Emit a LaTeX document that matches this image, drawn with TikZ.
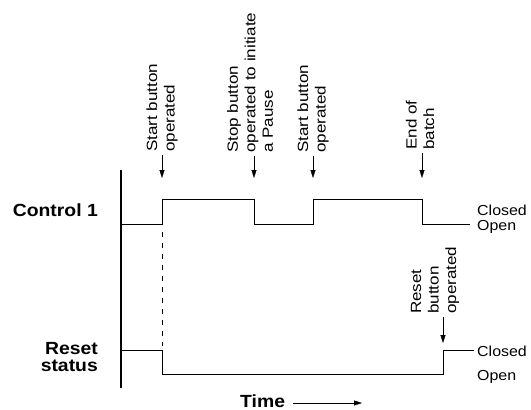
\documentclass[tikz,border=0pt]{standalone}
\usepackage{fontspec}
\setmainfont{Liberation Sans}[FakeStretch=1.1]
\newfontfamily\notefont{Liberation Sans}[FakeStretch=1.15]
\usetikzlibrary{arrows.meta}
\tikzset{
  note/.style={rotate=90,anchor=west,inner sep=0pt,align=left,
    font=\notefont\fontsize{14.8}{17.5}\selectfont},
  state/.style={anchor=base west,inner sep=0pt,font=\fontsize{14.5}{17}\selectfont},
  sig/.style={inner sep=0pt,align=right,font=\fontsize{17.6}{17}\selectfont\bfseries},
  evt/.style={-{Triangle[length=8pt,width=5pt]},shorten <=3pt},
  wave/.style={line width=1pt}
}
\newcommand{\tnote}[6]{%
  \node[note] (#1) at ({#2+#3},#4) {#6};
  \coordinate (#1tip) at (#2,#5);
  \draw[evt] (#1.west -| #1tip) -- (#1tip);}
\newcommand{\tstate}[3]{%
  \node[state] (#1c) at (477,#2) {Closed};
  \node[state] (#1o) at (477,#3) {Open};}

\begin{document}
\begin{tikzpicture}[x=1pt,y=-1pt]
  \useasboundingbox (0,0) rectangle (531,410);
  % time axis
  \draw[line width=2.2pt] (121,170) -- (121,388);
  % Control 1
  \node[sig,anchor=base east] (ctl) at (98,216) {Control 1};
  \draw[wave] (121,224.5) -- (162,224.5) -- (162,199) -- (254,199) -- (254,224.5)
    -- (313,224.5) -- (313,199) -- (422,199) -- (422,224.5) -- (470,224.5);
  \tstate{ctl}{215}{230}
  % Reset status
  \node[sig,anchor=east] (rst) at (98,357) {Reset\\status};
  \draw[wave] (121,350) -- (162,350) -- (162,374.5) -- (443,374.5) -- (443,350) -- (474,350);
  \tstate{rst}{356}{380}
  \draw[wave,dash pattern=on 5pt off 6pt] (162,232) -- (162,346);
  % events
  \tnote{n1}{162}{0}{152}{178}{Start button\\operated}
  \tnote{n2}{254}{-4}{153}{178}{Stop button\\operated to initiate\\a Pause}
  \tnote{n3}{313}{0}{153}{178}{Start button\\operated}
  \tnote{n4}{422}{-2}{150}{178}{End of\\batch}
  \tnote{n5}{443}{-8}{314}{343}{Reset\\button\\operated}
  % time arrow
  \node[sig,anchor=base west] (time) at (240,407) {Time};
  \coordinate (tend) at (362,403);
  \draw[evt,shorten <=8pt] (time.east |- tend) -- (tend);
\end{tikzpicture}
\end{document}
